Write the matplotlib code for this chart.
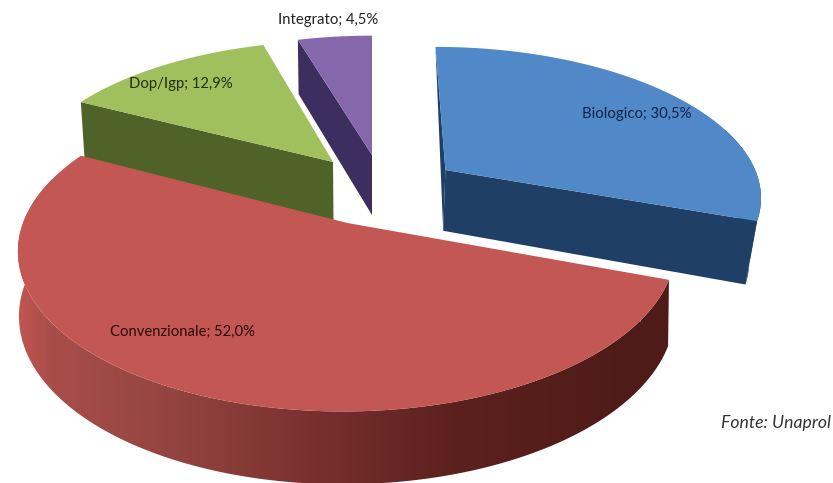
import numpy as np
import matplotlib
matplotlib.use("Agg")
import matplotlib.pyplot as plt
from matplotlib.colors import LinearSegmentedColormap
from matplotlib.patches import Polygon

# Production share by farming method
categories = ["Biologico", "Convenzionale", "Dop/Igp", "Integrato"]
values = [30.5, 52.0, 12.9, 4.5]
source_note = "Fonte: Unaprol"

# Offset of each exploded slice in the pie plane (x, depth) and its radius
offsets = {"Biologico": (0.237, 0.167), "Convenzionale": (-0.075, -0.185),
           "Dop/Igp": (-0.127, 0.224), "Integrato": (0.0, 0.274)}
radii = {"Biologico": 1.0, "Convenzionale": 0.99, "Dop/Igp": 1.0, "Integrato": 1.0}
# Horizontal shrink of the underside relative to the top surface
bottom_x = {"Biologico": 0.97, "Convenzionale": 0.997, "Dop/Igp": 0.987, "Integrato": 0.99}
top_colors = {"Biologico": "#5088C8", "Convenzionale": "#C25753",
              "Dop/Igp": "#A0C05E", "Integrato": "#8568AC"}
face_colors = {"Biologico": "#1F3F66", "Convenzionale": "#7A302E",
               "Dop/Igp": "#4F6329", "Integrato": "#3D2E60"}
label_pos = {"Biologico": (637, 114), "Convenzionale": (183, 332),
             "Dop/Igp": (181, 84), "Integrato": (328, 20)}
label_colors = {"Biologico": "#10234A", "Convenzionale": "#2A0A08",
                "Dop/Igp": "#22300C", "Integrato": "#222222"}

# Camera settings for the tilted pie
CX, CY, AX, BY, PERSP = 372.0, 194.4, 318.0, 150.0, 0.16
DEPTH, BOTTOM_Y = 62.0, 1.05
RAMP_LEFT, RAMP_RIGHT = 20, 640

side_cmap = LinearSegmentedColormap.from_list(
    "side", [(0.0, "#BE5550"), (0.05, "#A84E49"), (0.25, "#934440"),
             (0.45, "#7C322F"), (0.7, "#5C211E"), (1.0, "#4E1B18")])


def top_xy(theta, du, dv, r):
    """Project pie-plane points (angle clockwise from north) on the top surface."""
    u = r * np.sin(theta) + du
    v = r * np.cos(theta) + dv
    w = 1 + PERSP * v
    return CX + AX * u / w, CY - BY * v / w


def apex_xy(du, dv):
    w = 1 + PERSP * dv
    return CX + AX * du / w, CY - BY * dv / w


def lower(x, y, shrink):
    """Same points on the underside of the disc."""
    return CX + shrink * (x - CX), CY + DEPTH + BOTTOM_Y * (y - CY)


fig = plt.figure(figsize=(8.33, 4.83), dpi=100)
ax = fig.add_axes([0, 0, 1, 1])
ax.axis("off")

fractions = np.array(values) / np.sum(values)
edges = np.concatenate([[0], np.cumsum(fractions)]) * 2 * np.pi
spans = {c: (edges[i], edges[i + 1]) for i, c in enumerate(categories)}

# Back slices first so the front slice overlaps them
for z, name in enumerate(["Integrato", "Dop/Igp", "Biologico", "Convenzionale"]):
    start, end = spans[name]
    du, dv = offsets[name]
    r = radii[name]
    s = bottom_x[name]
    ax0, ay0 = apex_xy(du, dv)
    bx0, by0 = lower(ax0, ay0, s)
    theta = np.linspace(start, end, 240)
    xs, ys = top_xy(theta, du, dv, r)
    xb, yb = lower(xs, ys, s)
    base = z * 10 + 1

    # Cut faces turned towards the viewer
    if name == "Biologico":
        # Seen almost edge-on: a thin sliver down to the lower centre point
        ax.fill([ax0, xs[0], bx0], [ay0, ys[0], by0],
                color=face_colors[name], lw=0, zorder=base)
        ax.fill([ax0, xs[-1], xb[-1], bx0], [ay0, ys[-1], yb[-1], by0],
                color=face_colors[name], lw=0, zorder=base)
    elif name in ("Dop/Igp", "Integrato"):
        ax.fill([ax0, xs[0], xb[0], bx0], [ay0, ys[0], yb[0], by0],
                color=face_colors[name], lw=0, zorder=base)

    # Outer wall on the near part of the rim
    near = np.cos(theta) < 0.3
    if near.any():
        poly = np.column_stack([np.r_[xs[near], xb[near][::-1]],
                                np.r_[ys[near], yb[near][::-1]]])
        if name == "Convenzionale":
            patch = Polygon(poly, closed=True, fc="none", ec="none", transform=ax.transData)
            ax.add_patch(patch)
            ramp = np.linspace(0, 1, 512)[None, :]
            img = ax.imshow(ramp, cmap=side_cmap, extent=(RAMP_LEFT, RAMP_RIGHT, 483, 0),
                            aspect="auto", zorder=base, interpolation="bilinear")
            img.set_clip_path(patch)
            # Beyond the ramp the wall keeps its end colours
            ax.fill(poly[:, 0].clip(RAMP_RIGHT, None), poly[:, 1], color=side_cmap(1.0),
                    lw=0, zorder=base)
            ax.fill(poly[:, 0].clip(None, RAMP_LEFT), poly[:, 1], color=side_cmap(0.0),
                    lw=0, zorder=base)
        elif name == "Biologico":
            ax.fill(poly[:, 0], poly[:, 1], color=face_colors[name], lw=0, zorder=base)

    ax.fill(np.r_[ax0, xs], np.r_[ay0, ys], color=top_colors[name], lw=0, zorder=base + 1)

for name, val in zip(categories, values):
    text = f"{name}; {val:.1f}%".replace(".", ",")
    x, y = label_pos[name]
    ax.text(x, y, text, ha="center", va="center", family="Lato", fontsize=10.7,
            color=label_colors[name], zorder=60)

ax.text(721, 423, source_note, ha="left", va="center", family="Lato",
        style="italic", fontsize=12.7, color="#333333", zorder=60)

ax.set_xlim(0, 833)
ax.set_ylim(483, 0)
fig.savefig("out.png", dpi=100)
